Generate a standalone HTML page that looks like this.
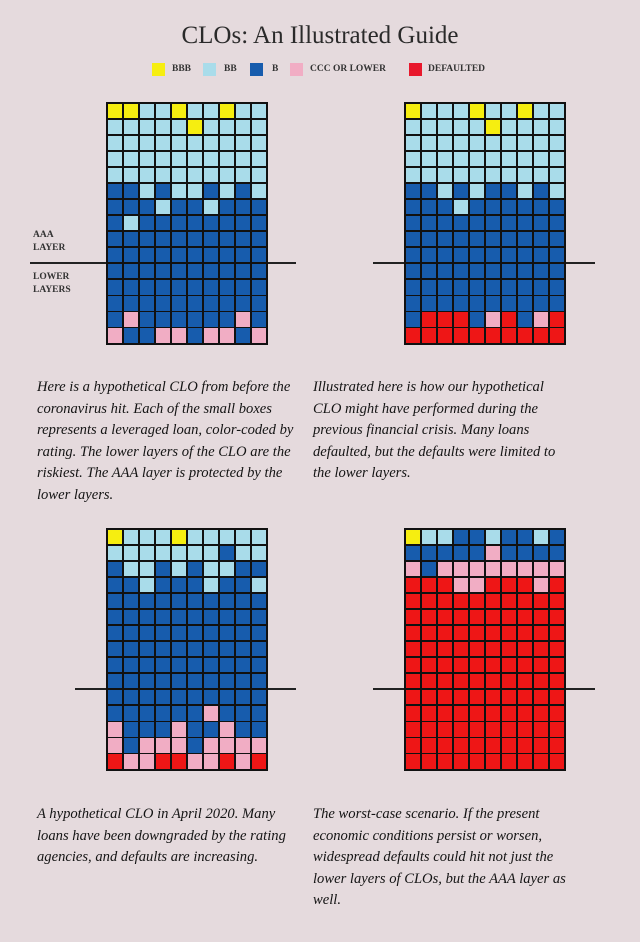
<!DOCTYPE html>
<html><head><meta charset="utf-8"><style>
body{margin:0;background:#e5dadd;}
#page{position:relative;width:640px;height:942px;background:#e5dadd;font-family:"Liberation Serif",serif;color:#222;overflow:hidden}
.abs{position:absolute}
.title{left:0;width:640px;top:22px;text-align:center;font-size:25px;color:#2a2a2a}
.sw{width:13px;height:13px;top:63px}
.lg{top:64px;font-size:9.5px;font-weight:bold;color:#333}
.txt{font-style:italic;font-size:14.6px;line-height:21.5px;color:#141414;white-space:nowrap}
.hl{height:1.5px;background:#222}
.lbl{font-size:9.5px;font-weight:bold;line-height:13px;color:#333}
</style></head><body>
<div id="page">
<div class="abs title">CLOs: An Illustrated Guide</div>
<div>
<div class="abs sw" style="left:152px;background:#f6ee10"></div>
<div class="abs lg" style="left:172px">BBB</div>
<div class="abs sw" style="left:203px;background:#a9dcea"></div>
<div class="abs lg" style="left:224px">BB</div>
<div class="abs sw" style="left:250px;background:#175cad"></div>
<div class="abs lg" style="left:272px">B</div>
<div class="abs sw" style="left:290px;background:#f1adc4"></div>
<div class="abs lg" style="left:310px">CCC OR LOWER</div>
<div class="abs sw" style="left:409px;background:#e8182c"></div>
<div class="abs lg" style="left:428px">DEFAULTED</div>
</div>

<div class="abs hl" style="left:30px;width:266px;top:262px"></div>
<div class="abs hl" style="left:373px;width:222px;top:262px"></div>
<div class="abs hl" style="left:75px;width:221px;top:688px"></div>
<div class="abs hl" style="left:373px;width:222px;top:688px"></div>
<div class="abs lbl" style="left:33px;top:229px">AAA<br>LAYER</div>
<div class="abs lbl" style="left:33px;top:271px">LOWER<br>LAYERS</div>

<div id="grids"></div>

<div class="abs txt" style="left:37px;top:377px">Here is a hypothetical CLO from before the<br>coronavirus hit. Each of the small boxes<br>represents a leveraged loan, color-coded by<br>rating. The lower layers of the CLO are the<br>riskiest. The AAA layer is protected by the<br>lower layers.</div>
<div class="abs txt" style="left:313px;top:377px">Illustrated here is how our hypothetical<br>CLO might have performed during the<br>previous financial crisis. Many loans<br>defaulted, but the defaults were limited to<br>the lower layers.</div>
<div class="abs txt" style="left:37px;top:804px">A hypothetical CLO in April 2020. Many<br>loans have been downgraded by the rating<br>agencies, and defaults are increasing.</div>
<div class="abs txt" style="left:313px;top:804px">The worst-case scenario. If the present<br>economic conditions persist or worsen,<br>widespread defaults could hit not just the<br>lower layers of CLOs, but the AAA layer as<br>well.</div>
</div>
<script>
const ratingColors = {Y:'#f6ee10',L:'#a9dcea',B:'#175cad',P:'#f1adc4',R:'#ee1616'};
const gridPreCovid = ["YYLLYLLYLL","LLLLLYLLLL","LLLLLLLLLL","LLLLLLLLLL","LLLLLLLLLL","BBLBLLBLBL","BBBLBBLBBB","BLBBBBBBBB","BBBBBBBBBB","BBBBBBBBBB","BBBBBBBBBB","BBBBBBBBBB","BBBBBBBBBB","BPBBBBBBPB","PBBPPBPPBP"];
const gridCrisis = ["YLLLYLLYLL","LLLLLYLLLL","LLLLLLLLLL","LLLLLLLLLL","LLLLLLLLLL","BBLBLBBLBL","BBBLBBBBBB","BBBBBBBBBB","BBBBBBBBBB","BBBBBBBBBB","BBBBBBBBBB","BBBBBBBBBB","BBBBBBBBBB","BRRRBPRBPR","RRRRRRRRRR"];
const gridApril2020 = ["YLLLYLLLLL","LLLLLLLBLL","BLLBLBLLBB","BBLBBBLBBL","BBBBBBBBBB","BBBBBBBBBB","BBBBBBBBBB","BBBBBBBBBB","BBBBBBBBBB","BBBBBBBBBB","BBBBBBBBBB","BBBBBBPBBB","PBBBPBBPBB","PBPPPBPPPP","RPPRRPPRPR"];
const gridWorstCase = ["YLLBBLBBLB","BBBBBPBBBB","PBPPPPPPPP","RRRPPRRRPR","RRRRRRRRRR","RRRRRRRRRR","RRRRRRRRRR","RRRRRRRRRR","RRRRRRRRRR","RRRRRRRRRR","RRRRRRRRRR","RRRRRRRRRR","RRRRRRRRRR","RRRRRRRRRR","RRRRRRRRRR"];
const panels = [[gridPreCovid,106,102,'clo-grid-pre-covid'],[gridCrisis,404,102,'clo-grid-crisis'],[gridApril2020,106,528,'clo-grid-april-2020'],[gridWorstCase,404,528,'clo-grid-worst-case']];
const host = document.getElementById('grids');
const cw = 16, ch = 16.07;
panels.forEach(([g,x0,y0,name])=>{
  const wrap = document.createElement('div');
  
  
  wrap.style.cssText = `position:absolute;left:${x0}px;top:${y0}px;width:${cw*10+1.5}px;height:${ch*g.length+1.5}px;background:#111;`;
  g.forEach((row,r)=>{
    [...row].forEach((c,i)=>{
      const d = document.createElement('div');
      
      
      d.style.cssText = `position:absolute;left:${i*cw+1.5}px;top:${r*ch+1.5}px;width:${cw-1.8}px;height:${ch-1.8}px;background:${ratingColors[c]};`;
      wrap.appendChild(d);
    });
  });
  host.appendChild(wrap);
});
</script>
</body></html>
